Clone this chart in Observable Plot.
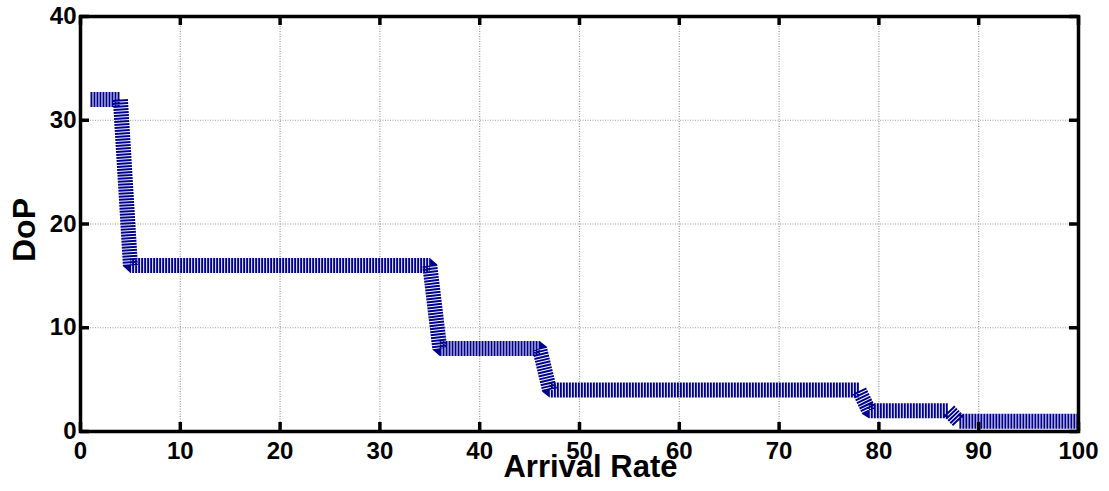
<!DOCTYPE html>
<html><head><meta charset="utf-8">
<script src="https://cdn.jsdelivr.net/npm/d3@7"></script>
<script src="https://cdn.jsdelivr.net/npm/@observablehq/plot@0.6"></script>
<style>body{margin:0;background:#fff}</style>
</head><body><div id="chart"></div>
<script>
// Data (step vertices)
const arrivalRate = [1, 4, 5, 35, 36, 46, 47, 78, 79, 87, 88, 100];
const dop = [32, 32, 16, 16, 8, 8, 4, 4, 2, 2, 1, 1];
const xTicks = [0, 10, 20, 30, 40, 50, 60, 70, 80, 90, 100];
const yTicks = [0, 10, 20, 30, 40];
const xLabel = "Arrival Rate";
const yLabel = "DoP";

const data = arrivalRate.map((x, i) => ({x, y: dop[i]}));

const W = 1109, H = 491, mt = 16, mb = 60, ml = 80, mr = 31;
const plotH = H - mt - mb, plotW = W - ml - mr;
const tk = 9;
const tickStyle = {stroke: "#000", strokeWidth: 3.5};

const chart = Plot.plot({
  width: W, height: H,
  marginTop: mt, marginBottom: mb, marginLeft: ml, marginRight: mr,
  x: {domain: [0, 100]},
  y: {domain: [0, 40]},
  style: {fontFamily: "'Liberation Sans', Arial, Helvetica, sans-serif", fontWeight: "bold", fontSize: "24px", color: "#000", background: "#fff"},
  marks: [
    Plot.gridX(xTicks, {stroke: "#999", strokeOpacity: 1, strokeDasharray: "1,1.5", strokeWidth: 1.2}),
    Plot.gridY(yTicks, {stroke: "#999", strokeOpacity: 1, strokeDasharray: "1,1.5", strokeWidth: 1.2}),
    Plot.line(data, {x: "x", y: "y", stroke: "#00008f", strokeWidth: 15, strokeDasharray: "2,1", strokeLinejoin: "miter", strokeLinecap: "butt"}),
    Plot.ruleX(xTicks, {x: d => d, insetTop: plotH - tk, ...tickStyle}),
    Plot.ruleX(xTicks, {x: d => d, insetBottom: plotH - tk, ...tickStyle}),
    Plot.ruleY(yTicks, {y: d => d, insetRight: plotW - tk, ...tickStyle}),
    Plot.ruleY(yTicks, {y: d => d, insetLeft: plotW - tk, ...tickStyle}),
    Plot.frame({stroke: "#000", strokeWidth: 3.5}),
    Plot.axisX(xTicks, {tickSize: 0, tickPadding: 10, label: null, fontSize: 24}),
    Plot.axisY(yTicks, {tickSize: 0, tickPadding: 4, label: null, fontSize: 24}),
    Plot.text([xLabel], {text: d => d, frameAnchor: "bottom", textAnchor: "middle", lineAnchor: "middle", dx: 11, dy: 36, fontSize: 31, fontWeight: "bold"}),
    Plot.text([yLabel], {text: d => d, frameAnchor: "left", textAnchor: "middle", lineAnchor: "middle", dx: -56, dy: 6, rotate: -90, fontSize: 32, fontWeight: "bold"})
  ]
});
document.getElementById("chart").appendChild(chart);
</script>
</body></html>
